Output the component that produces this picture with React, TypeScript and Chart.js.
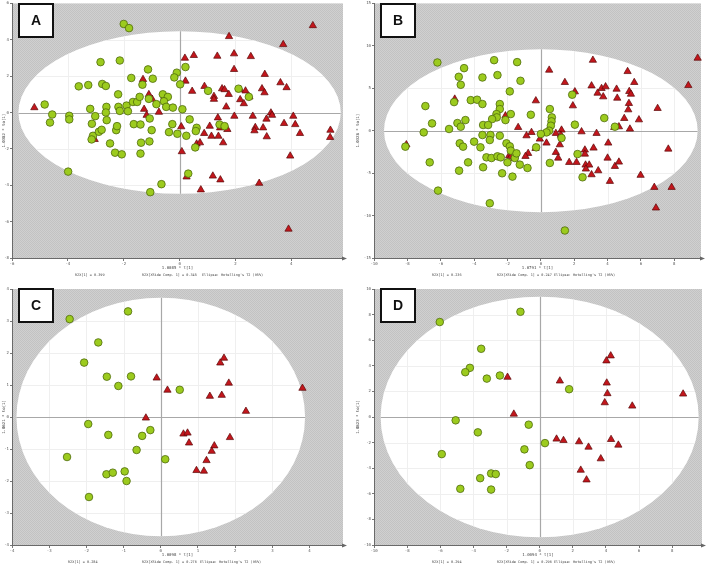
import React, { useEffect, useRef } from "react";
import { Chart, registerables } from "chart.js";
Chart.register(...registerables);

const MONO = '"DejaVu Sans Mono", monospace';

// ---------- Panel A ----------
const A_GREEN: [number, number][] = [
  [-2.0, 4.87], [-1.81, 4.64], [-2.83, 2.77], [-2.14, 2.86], [-1.13, 2.37], [-0.96, 1.86], [-1.73, 1.9],
  [-1.33, 1.53], [-3.61, 1.44], [-3.27, 1.51], [-2.77, 1.57], [-2.64, 1.46], [-2.2, 1.0], [-0.1, 2.19],
  [-0.19, 1.93], [0.21, 2.5], [0.02, 1.55], [-4.83, 0.44], [-4.56, -0.11], [-4.64, -0.55], [-3.95, -0.18],
  [-3.95, -0.38], [-3.2, 0.2], [-3.02, -0.2], [-2.62, 0.31], [-2.64, 0.0], [-2.61, -0.42], [-3.14, -0.62],
  [-3.1, -1.28], [-3.15, -1.48], [-2.89, -1.06], [-2.79, -0.95], [-2.27, -0.97], [-2.24, -0.75], [-2.49, -1.7],
  [-2.31, -2.21], [-2.07, -2.3], [-2.19, 0.31], [-2.14, 0.09], [-1.9, 0.38], [-1.85, 0.07], [-1.67, 0.58],
  [-1.52, 0.58], [-1.43, 0.86], [-1.1, 0.75], [-0.83, 0.46], [-0.6, 1.0], [-0.42, 0.86], [-0.56, 0.62],
  [-0.48, 0.31], [-0.24, 0.27], [0.1, 0.18], [-1.07, -0.33], [-1.64, -0.64], [-1.4, -0.66], [-1.0, -0.97],
  [-1.38, -1.66], [-1.08, -1.59], [-1.4, -2.26], [-0.26, -0.64], [-0.38, -1.08], [-0.08, -1.17], [0.24, -1.28],
  [0.36, -0.38], [0.61, -0.84], [0.58, -1.02], [0.56, -1.92], [0.31, -3.36], [-3.99, -3.25], [-0.65, -3.94],
  [-1.05, -4.38], [1.02, 1.19], [2.11, 1.31], [2.48, 0.86], [1.43, -0.66], [1.61, -0.75],
];
const A_RED: [number, number][] = [
  [-5.2, 0.27], [4.77, 4.78], [1.77, 4.18], [3.71, 3.74], [0.19, 2.99], [0.51, 3.14], [1.35, 3.1], [1.95, 3.23],
  [2.55, 3.08], [1.95, 2.37], [3.05, 2.1], [0.21, 1.73], [-1.31, 1.82], [3.61, 1.64], [3.83, 1.37], [2.95, 1.31],
  [3.04, 1.09], [0.45, 1.17], [0.89, 1.44], [1.52, 1.31], [1.61, 1.26], [1.76, 1.0], [1.23, 0.89], [1.23, 0.73],
  [2.17, 1.26], [2.36, 1.19], [2.5, 0.86], [2.17, 0.71], [2.3, 0.49], [1.67, 0.31], [-1.1, 0.99], [-0.98, 0.73],
  [-0.54, 0.89], [-1.27, 0.18], [-1.18, -0.15], [-0.74, 0.02], [3.27, -0.02], [3.31, -0.15], [1.96, -0.2],
  [2.62, -0.2], [4.07, -0.2], [3.11, -0.36], [1.37, -0.29], [3.74, -0.6], [4.14, -0.66], [0.06, -0.78],
  [1.08, -0.75], [1.45, -0.84], [1.71, -0.93], [2.71, -0.82], [2.68, -1.0], [2.99, -0.84], [5.4, -0.97],
  [5.39, -1.37], [4.31, -1.15], [0.88, -1.15], [1.14, -1.3], [1.39, -1.3], [3.12, -1.33], [0.61, -1.73],
  [0.73, -1.66], [1.56, -1.66], [-3.04, -1.48], [0.08, -2.15], [3.96, -2.39], [1.19, -3.49], [1.46, -3.7],
  [0.25, -3.54], [2.85, -3.89], [0.76, -4.25], [3.9, -6.41],
];
const A_X_TICKS = [-6, -4, -2, 0, 2, 4];
const A_Y_TICKS = [-8, -6, -4, -2, 0, 2, 4, 6];

// ---------- Panel B ----------
const B_GREEN: [number, number][] = [
  [-6.2, 8.04], [-2.8, 8.31], [-1.42, 8.08], [-4.6, 7.37], [-4.92, 6.35], [-3.5, 6.27], [-2.6, 6.55],
  [-1.22, 5.88], [-4.8, 5.41], [-1.86, 4.63], [-6.92, 2.9], [-5.2, 3.37], [-4.2, 3.6], [-3.82, 3.65],
  [-3.5, 3.14], [-2.46, 3.14], [-2.46, 2.55], [-2.66, 1.96], [-2.64, 1.57], [-2.92, 1.37], [-2.12, 1.25],
  [-1.8, 1.96], [-0.6, 1.88], [0.54, 2.55], [0.66, 1.57], [0.64, 1.1], [0.6, 0.59], [0.5, 0.0], [0.34, -0.2],
  [0.0, -0.39], [1.88, 4.24], [2.04, 0.71], [3.8, 1.49], [4.44, 0.47], [-6.52, 0.86], [-7.02, -0.2],
  [-5.5, 0.2], [-5.0, 0.9], [-4.52, 1.25], [-4.8, 0.47], [-3.46, 0.67], [-3.16, 0.67], [-3.5, -0.51],
  [-3.02, -0.51], [-2.46, -0.59], [-3.06, -1.1], [-4.0, -1.29], [-3.62, -1.96], [-4.86, -1.49], [-4.66, -1.88],
  [-8.12, -1.88], [-6.66, -3.73], [-6.16, -7.06], [-4.36, -3.73], [-4.9, -4.71], [-3.46, -4.31], [-3.26, -3.14],
  [-2.96, -3.22], [-2.6, -3.02], [-2.4, -3.14], [-2.06, -1.49], [-1.86, -1.84], [-1.8, -2.35], [-2.0, -3.73],
  [-1.56, -3.22], [-1.46, -2.67], [-1.26, -4.0], [-0.8, -4.39], [-2.32, -5.02], [-1.7, -5.41], [-3.06, -8.55],
  [-0.28, -1.96], [1.24, -0.86], [0.54, -3.8], [2.2, -2.75], [2.5, -5.49], [1.44, -11.76],
];
const B_RED: [number, number][] = [
  [9.4, 8.55], [8.84, 5.33], [3.12, 8.31], [5.2, 6.98], [0.5, 7.14], [1.44, 5.69], [2.04, 4.59], [3.04, 5.29],
  [5.6, 5.69], [3.64, 4.98], [3.88, 5.18], [3.4, 4.43], [3.74, 4.0], [4.54, 4.9], [4.58, 3.84], [5.3, 4.63],
  [5.4, 4.31], [5.28, 3.22], [5.24, 2.47], [1.92, 2.94], [7.0, 2.63], [5.0, 1.45], [5.88, 1.29], [-5.16, 3.73],
  [-2.12, 1.76], [-0.3, 3.53], [-1.36, 0.39], [1.24, 0.08], [2.44, -0.12], [3.34, -0.31], [4.4, 0.39],
  [4.68, 0.47], [5.34, 0.2], [-0.56, -0.2], [-0.86, -0.59], [-0.06, -0.98], [0.34, -1.45], [0.9, -0.31],
  [1.2, -0.51], [1.14, -1.65], [4.04, -1.45], [-0.32, -2.08], [0.9, -2.55], [1.04, -3.22], [-0.76, -2.67],
  [-0.92, -3.02], [-1.9, -2.94], [-1.6, -3.25], [2.64, -2.27], [2.64, -2.75], [3.16, -2.04], [4.0, -3.22],
  [1.7, -3.73], [2.14, -3.73], [2.68, -4.04], [2.9, -4.04], [2.7, -4.51], [3.44, -4.71], [3.04, -5.18],
  [4.44, -4.2], [4.68, -3.69], [4.14, -5.96], [5.98, -5.25], [7.64, -2.16], [6.8, -6.67], [7.84, -6.67],
  [6.9, -9.1], [-8.06, -1.65], [-1.8, -3.06],
];
const B_X_TICKS = [-10, -8, -6, -4, -2, 0, 2, 4, 6, 8];
const B_Y_TICKS = [-15, -10, -5, 0, 5, 10, 15];

// ---------- Panel C ----------
const C_GREEN: [number, number][] = [
  [-0.88, 3.3], [-2.45, 3.06], [-1.68, 2.33], [-2.06, 1.7], [-1.45, 1.26], [-0.8, 1.27], [-1.14, 0.97],
  [0.51, 0.85], [-1.95, -0.22], [-1.41, -0.56], [-0.28, -0.41], [-0.5, -0.59], [-0.65, -1.03], [0.12, -1.32],
  [-2.52, -1.25], [-1.46, -1.79], [-1.29, -1.74], [-0.97, -1.7], [-0.92, -2.0], [-1.93, -2.5],
];
const C_RED: [number, number][] = [
  [-0.11, 1.22], [0.18, 0.84], [1.7, 1.84], [1.6, 1.69], [1.83, 1.06], [1.32, 0.65], [1.64, 0.68], [3.81, 0.9],
  [2.29, 0.18], [-0.4, -0.03], [0.61, -0.53], [0.72, -0.5], [0.76, -0.81], [1.86, -0.64], [1.44, -0.9],
  [1.37, -1.07], [1.23, -1.36], [0.96, -1.67], [1.16, -1.69],
];
const C_X_TICKS = [-4, -3, -2, -1, 0, 1, 2, 3, 4];
const C_Y_TICKS = [-4, -3, -2, -1, 0, 1, 2, 3, 4];

// ---------- Panel D ----------
const D_GREEN: [number, number][] = [
  [-1.16, 8.22], [-6.03, 7.42], [-3.53, 5.33], [-4.21, 3.84], [-4.49, 3.5], [-3.19, 3.0], [-2.4, 3.24],
  [1.78, 2.17], [-5.07, -0.26], [-0.66, -0.6], [-3.73, -1.2], [0.32, -2.04], [-5.91, -2.9], [-0.92, -2.53],
  [-0.6, -3.76], [-2.93, -4.41], [-2.65, -4.46], [-3.59, -4.78], [-4.79, -5.61], [-2.93, -5.67],
];
const D_RED: [number, number][] = [
  [-1.94, 3.11], [-1.56, 0.23], [1.22, 2.82], [4.29, 4.78], [4.03, 4.39], [4.05, 2.66], [4.09, 1.83],
  [3.93, 1.12], [5.59, 0.86], [8.66, 1.8], [1.02, -1.72], [1.44, -1.83], [2.38, -1.93], [2.95, -2.35],
  [4.31, -1.75], [4.75, -2.19], [3.69, -3.26], [2.48, -4.15], [2.83, -4.91],
];
const D_X_TICKS = [-10, -8, -6, -4, -2, 0, 2, 4, 6, 8];
const D_Y_TICKS = [-10, -8, -6, -4, -2, 0, 2, 4, 6, 8, 10];

type Panel = {
  id: string;
  left: number; top: number; w: number; h: number;
  L: number; R: number; T: number; B: number;
  xMin: number; xMax: number; yMin: number; yMax: number;
  xTicks: number[]; yTicks: number[];
  ea: number; eb: number;
  green: [number, number][]; red: [number, number][];
  xTitle: string; yTitle: string;
  r2x: string[]; r2xPos: number[];
  box: [number, number];
};

const PANELS: Panel[] = [
  {
    id: "A", left: 0, top: 0, w: 354, h: 282, L: 12, R: 343, T: 3, B: 258,
    xMin: -6, xMax: 5.85, yMin: -8, yMax: 6, xTicks: A_X_TICKS, yTicks: A_Y_TICKS,
    ea: 5.77, eb: 4.47, green: A_GREEN, red: A_RED,
    xTitle: "1.0085 * t[1]", yTitle: "1.0382 * to[1]",
    r2x: ["R2X[1] = 0.399", "R2X[XSide Comp. 1] = 0.345", "Ellipse: Hotelling's T2 (95%)"],
    r2xPos: [75, 142, 202], box: [18, 3],
  },
  {
    id: "B", left: 354, top: 0, w: 354, h: 282, L: 20, R: 347, T: 3, B: 258,
    xMin: -10, xMax: 9.6, yMin: -15, yMax: 15, xTicks: B_X_TICKS, yTicks: B_Y_TICKS,
    ea: 9.4, eb: 9.6, green: B_GREEN, red: B_RED,
    xTitle: "1.0791 * t[1]", yTitle: "1.0328 * to[1]",
    r2x: ["R2X[1] = 0.236", "R2X[XSide Comp. 1] = 0.247", "Ellipse: Hotelling's T2 (95%)"],
    r2xPos: [78, 143, 200], box: [26, 3],
  },
  {
    id: "C", left: 0, top: 282, w: 354, h: 283, L: 12, R: 343, T: 7, B: 263,
    xMin: -4, xMax: 4.9, yMin: -4, yMax: 4, xTicks: C_X_TICKS, yTicks: C_Y_TICKS,
    ea: 3.88, eb: 3.73, green: C_GREEN, red: C_RED,
    xTitle: "1.0098 * t[1]", yTitle: "1.0621 * to[1]",
    r2x: ["R2X[1] = 0.284", "R2X[XSide Comp. 1] = 0.276", "Ellipse: Hotelling's T2 (95%)"],
    r2xPos: [68, 142, 200], box: [18, 6],
  },
  {
    id: "D", left: 354, top: 282, w: 354, h: 283, L: 20, R: 348, T: 7, B: 263,
    xMin: -10, xMax: 9.8, yMin: -10, yMax: 10, xTicks: D_X_TICKS, yTicks: D_Y_TICKS,
    ea: 9.6, eb: 9.4, green: D_GREEN, red: D_RED,
    xTitle: "1.0094 * t[1]", yTitle: "1.0823 * to[1]",
    r2x: ["R2X[1] = 0.294", "R2X[XSide Comp. 1] = 0.296", "Ellipse: Hotelling's T2 (95%)"],
    r2xPos: [78, 143, 200], box: [26, 6],
  },
];

let stipple: CanvasPattern | null = null;
function getStipple(ctx: CanvasRenderingContext2D) {
  if (stipple) return stipple;
  const c = document.createElement("canvas");
  c.width = 2; c.height = 2;
  const g = c.getContext("2d")!;
  g.fillStyle = "#d0d0d0"; g.fillRect(0, 0, 2, 2);
  g.fillStyle = "#c2c2c2"; g.fillRect(0, 0, 1, 1); g.fillRect(1, 1, 1, 1);
  stipple = ctx.createPattern(c, "repeat");
  return stipple!;
}

function makeDeco(p: Panel) {
  return {
    id: "deco" + p.id,
    beforeDraw(chart: any) {
      const { ctx, chartArea: ca, scales } = chart;
      const xs = scales.x, ys = scales.y;
      ctx.save();
      ctx.fillStyle = "#ffffff";
      ctx.fillRect(0, 0, chart.width, chart.height);
      ctx.fillStyle = getStipple(ctx);
      ctx.fillRect(ca.left, ca.top, ca.right - ca.left, ca.bottom - ca.top);
      const cx = xs.getPixelForValue(0), cy = ys.getPixelForValue(0);
      const rx = xs.getPixelForValue(p.ea) - cx;
      const ry = cy - ys.getPixelForValue(p.eb);
      ctx.beginPath();
      ctx.ellipse(cx, cy, rx, ry, 0, 0, Math.PI * 2);
      ctx.fillStyle = "#ffffff";
      ctx.fill();
      ctx.clip();
      ctx.strokeStyle = "#efefef";
      ctx.lineWidth = 1;
      for (const t of p.xTicks) {
        const px = Math.round(xs.getPixelForValue(t)) + 0.5;
        ctx.beginPath(); ctx.moveTo(px, ca.top); ctx.lineTo(px, ca.bottom); ctx.stroke();
      }
      for (const t of p.yTicks) {
        const py = Math.round(ys.getPixelForValue(t)) + 0.5;
        ctx.beginPath(); ctx.moveTo(ca.left, py); ctx.lineTo(ca.right, py); ctx.stroke();
      }
      ctx.strokeStyle = "#a8a8a8";
      ctx.lineWidth = 1.2;
      const zx = Math.round(cx) + 0.5, zy = Math.round(cy) + 0.5;
      ctx.beginPath(); ctx.moveTo(zx, ca.top); ctx.lineTo(zx, ca.bottom); ctx.stroke();
      ctx.beginPath(); ctx.moveTo(ca.left, zy); ctx.lineTo(ca.right, zy); ctx.stroke();
      ctx.restore();
    },
    afterDraw(chart: any) {
      const { ctx, chartArea: ca } = chart;
      ctx.save();
      // arrow at end of x axis
      ctx.fillStyle = "#666";
      ctx.beginPath();
      ctx.moveTo(ca.right + 4, ca.bottom + 0.5);
      ctx.lineTo(ca.right - 1, ca.bottom - 1.5);
      ctx.lineTo(ca.right - 1, ca.bottom + 2.5);
      ctx.closePath();
      ctx.fill();
      // texts
      ctx.fillStyle = "#444";
      ctx.font = `4px ${MONO}`;
      ctx.textBaseline = "middle";
      ctx.textAlign = "center";
      ctx.fillText(p.xTitle, (ca.left + ca.right) / 2, ca.bottom + 10);
      ctx.textAlign = "left";
      ctx.font = `3.5px ${MONO}`;
      p.r2x.forEach((s, i) => ctx.fillText(s, p.r2xPos[i], ca.bottom + 17));
      ctx.font = `4px ${MONO}`;
      ctx.save();
      ctx.translate(3.5, (ca.top + ca.bottom) / 2);
      ctx.rotate(-Math.PI / 2);
      ctx.textAlign = "center";
      ctx.fillText(p.yTitle, 0, 0);
      ctx.restore();
      // label box
      const [bx, by] = p.box;
      ctx.fillStyle = "#ffffff";
      ctx.fillRect(bx, by, 36, 35);
      ctx.strokeStyle = "#111";
      ctx.lineWidth = 2;
      ctx.strokeRect(bx + 1, by + 1, 34, 33);
      ctx.fillStyle = "#111";
      ctx.font = `bold 14px "Liberation Sans", Arial, sans-serif`;
      ctx.textAlign = "center";
      ctx.textBaseline = "middle";
      ctx.fillText(p.id, bx + 18, by + 18);
      ctx.restore();
    },
  };
}

function PanelChart({ p }: { p: Panel }) {
  const ref = useRef<HTMLCanvasElement>(null);
  useEffect(() => {
    const tickFont = { family: MONO, size: 4 };
    const chart = new Chart(ref.current!, {
      type: "scatter",
      data: {
        datasets: [
          {
            label: "Group 1",
            data: p.green.map(([x, y]) => ({ x, y })),
            pointStyle: "circle",
            pointRadius: 3.8,
            pointBackgroundColor: "#9ccb1e",
            pointBorderColor: "#4f6b0c",
            pointBorderWidth: 0.8,
          },
          {
            label: "Group 2",
            data: p.red.map(([x, y]) => ({ x, y })),
            pointStyle: "triangle",
            pointRadius: 4.2,
            pointBackgroundColor: "#c3161c",
            pointBorderColor: "#5a0808",
            pointBorderWidth: 0.7,
          },
        ],
      },
      options: {
        animation: false,
        responsive: false,
        devicePixelRatio: 1,
        clip: false as any,
        layout: {
          autoPadding: false,
          padding: { left: 0, top: p.T, right: p.w - p.R, bottom: 0 },
        },
        plugins: { legend: { display: false }, tooltip: { enabled: false } },
        scales: {
          x: {
            type: "linear",
            min: p.xMin,
            max: p.xMax,
            afterBuildTicks: (s: any) => { s.ticks = p.xTicks.map((v) => ({ value: v })); },
            afterFit: (s: any) => { s.height = p.h - p.B; },
            grid: { drawOnChartArea: false, drawTicks: true, tickLength: 3, tickColor: "#777", tickWidth: 1 },
            border: { display: true, color: "#6a6a6a", width: 1 },
            ticks: { font: tickFont, color: "#555", padding: 1, maxRotation: 0, autoSkip: false },
          },
          y: {
            type: "linear",
            min: p.yMin,
            max: p.yMax,
            afterBuildTicks: (s: any) => { s.ticks = p.yTicks.map((v) => ({ value: v })); },
            afterFit: (s: any) => { s.width = p.L; },
            grid: { drawOnChartArea: false, drawTicks: true, tickLength: 2, tickColor: "#777", tickWidth: 1 },
            border: { display: true, color: "#6a6a6a", width: 1 },
            ticks: { font: tickFont, color: "#555", padding: 1, autoSkip: false },
          },
        },
      } as any,
      plugins: [makeDeco(p)],
    });
    return () => chart.destroy();
  }, [p]);
  return (
    <canvas
      ref={ref}
      width={p.w}
      height={p.h}
      style={{ position: "absolute", left: p.left, top: p.top, width: p.w, height: p.h }}
    />
  );
}

export default function App() {
  return (
    <div style={{ position: "fixed", left: 0, top: 0, width: 708, height: 565, background: "#fff", overflow: "hidden" }}>
      {PANELS.map((p) => (
        <PanelChart key={p.id} p={p} />
      ))}
    </div>
  );
}
